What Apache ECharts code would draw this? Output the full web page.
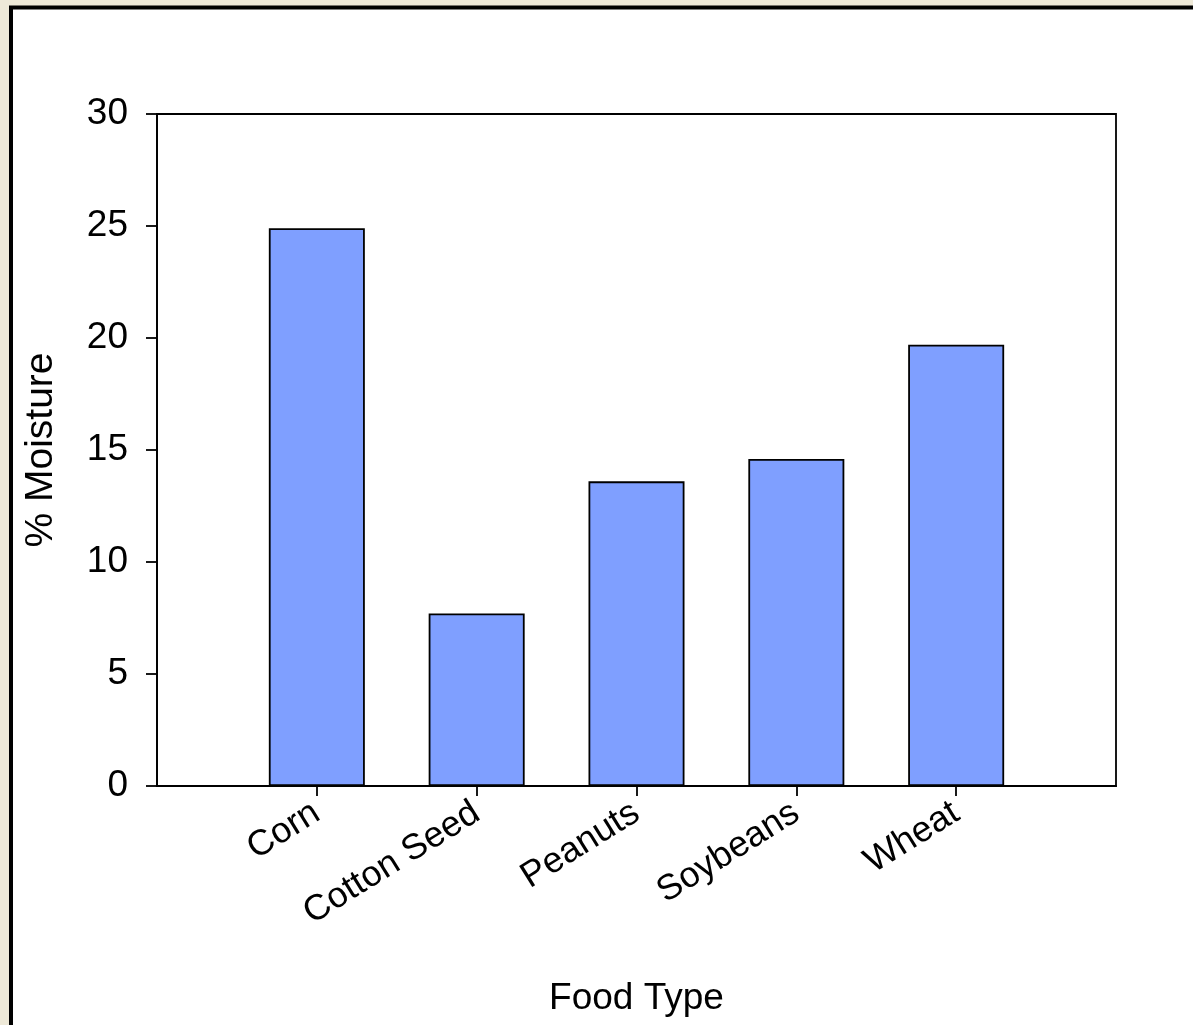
<!DOCTYPE html>
<html>
<head>
<meta charset="utf-8">
<script src="https://cdn.jsdelivr.net/npm/echarts@6/dist/echarts.min.js"></script>
<style>
html,body{margin:0;padding:0;background:#EEE9D8;}
#c{width:1193px;height:1025px;}
</style>
</head>
<body>
<div id="c"></div>
<script>
const categories = ['Corn', 'Cotton Seed', 'Peanuts', 'Soybeans', 'Wheat'];
const moisture = [24.9, 7.7, 13.6, 14.6, 19.7];
const yTicks = [0, 5, 10, 15, 20, 25, 30];

const axisCats = [''].concat(categories, ['']);
const barData = ['-'].concat(moisture, ['-']);

const chart = echarts.init(document.getElementById('c'), null, {renderer: 'canvas'});
const font = 'Liberation Sans, Arial, sans-serif';
chart.setOption({
  backgroundColor: '#EEE9D8',
  animation: false,
  graphic: [
    {type: 'rect', z: -10, shape: {x: 11, y: 7.5, width: 1300, height: 1200},
     style: {fill: '#ffffff', stroke: '#000000', lineWidth: 4}}
  ],
  grid: {left: 157, right: 77, top: 114, bottom: 239, show: true, borderColor: '#000', borderWidth: 1.8, backgroundColor: 'transparent'},
  xAxis: {
    type: 'category',
    data: axisCats,
    boundaryGap: false,
    name: 'Food Type',
    nameLocation: 'middle',
    nameGap: 194,
    nameTextStyle: {fontFamily: font, fontSize: 37, color: '#000'},
    axisLine: {show: true, lineStyle: {color: '#000', width: 1.8}},
    axisTick: {show: true, length: 10, inside: false, interval: function (i, v) { return v !== ''; }, lineStyle: {color: '#000', width: 1.8}},
    axisLabel: {rotate: 32, margin: 24, fontFamily: font, fontSize: 36, color: '#000', interval: 0},
    splitLine: {show: false}
  },
  yAxis: {
    type: 'value',
    min: 0, max: 30, interval: 5,
    name: '% Moisture',
    nameLocation: 'middle',
    nameGap: 96,
    nameRotate: 90,
    nameTextStyle: {fontFamily: font, fontSize: 39, color: '#000'},
    axisLine: {show: true, lineStyle: {color: '#000', width: 1.8}},
    axisTick: {show: true, length: 11, lineStyle: {color: '#000', width: 1.8}},
    axisLabel: {margin: 29, fontFamily: font, fontSize: 37, color: '#000',
      formatter: function (v) { return yTicks.indexOf(v) >= 0 ? String(v) : ''; }},
    splitLine: {show: false}
  },
  series: [{
    type: 'bar',
    data: barData,
    barWidth: 96,
    itemStyle: {color: '#7F9FFF', borderColor: '#000', borderWidth: 1.8}
  }]
});
</script>
</body>
</html>
